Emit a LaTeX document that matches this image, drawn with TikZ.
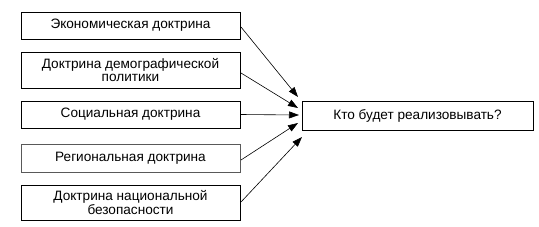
\documentclass[tikz,border=0pt]{standalone}
\usepackage{fontspec}
\setmainfont{Liberation Sans}
\usetikzlibrary{arrows.meta}
\begin{document}
\begin{tikzpicture}[x=1pt,y=-1pt,
  box/.style={draw=black,line width=0.8pt,rectangle,inner sep=0pt,align=center,font=\fontsize{13.6}{13.5}\selectfont},
  arr/.style={line width=0.6pt,-{Triangle[length=10pt,width=7pt]}}]
\useasboundingbox (0,0) rectangle (539,227);
\node[box,minimum width=219pt,minimum height=27pt] (a) at (130.5,25.5) {Экономическая доктрина};
\node[box,minimum width=219pt,minimum height=36pt] (b) at (130.5,70) {Доктрина демографической\\политики};
\node[box,minimum width=219pt,minimum height=27pt] (c) at (130.5,114.5) {Социальная доктрина};
\node[box,draw=black!65,minimum width=219pt,minimum height=28pt] (d) at (130.5,158) {Региональная доктрина};
\node[box,minimum width=219pt,minimum height=35pt] (e) at (130.5,202.5) {Доктрина национальной\\безопасности};
\node[box,minimum width=231pt,minimum height=29pt] (k) at (417.5,115.5) {Кто будет реализовывать?};
\coordinate (t1) at (298,97);
\coordinate (t2) at (298,108);
\coordinate (t3) at (299,115);
\coordinate (t4) at (298,123);
\coordinate (t5) at (302,137);
\coordinate (s1) at (241,27);
\coordinate (s2) at (241,73);
\coordinate (s4) at (241,160);
\coordinate (s5) at (241,202);
\draw[arr] (s1) -- (t1);
\draw[arr] (s2) -- (t2);
\draw[arr] (c.east) -- (t3);
\draw[arr] (s4) -- (t4);
\draw[arr] (s5) -- (t5);
\end{tikzpicture}
\end{document}
